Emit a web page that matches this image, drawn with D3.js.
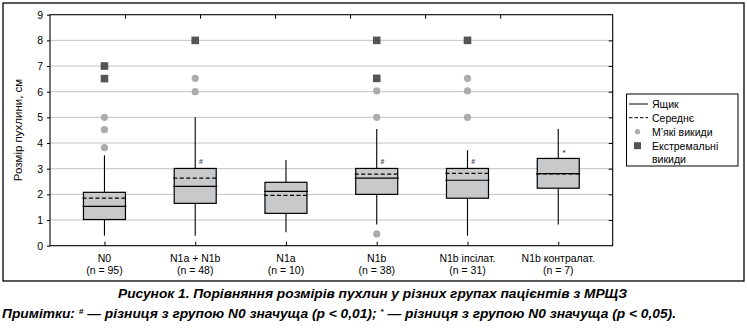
<!DOCTYPE html>
<html><head><meta charset="utf-8">
<script src="https://cdn.jsdelivr.net/npm/d3@7"></script>
<style>
body{margin:0;background:#fff;}
svg{display:block;}
text{font-family:"Liberation Sans",Arial,sans-serif;}
.cap{font-family:"Liberation Sans",Arial,sans-serif;font-weight:bold;font-style:italic;}
</style></head>
<body>
<svg id="c" width="747" height="331"></svg>
<script>
const categories = ["N0","N1a + N1b","N1a","N1b","N1b іпсілат.","N1b контралат."];
const nLabels = ["(n = 95)","(n = 48)","(n = 10)","(n = 38)","(n = 31)","(n = 7)"];
const q1 = [1.02, 1.65, 1.26, 2.0, 1.85, 2.24];
const median = [1.53, 2.31, 2.12, 2.63, 2.55, 2.81];
const q3 = [2.08, 3.01, 2.47, 3.01, 3.01, 3.40];
const mean = [1.85, 2.63, 1.96, 2.79, 2.82, 2.80];
const whiskerLow = [0.39, 0.39, 0.52, 0.83, 0.39, 0.83];
const whiskerHigh = [3.52, 5.0, 3.34, 4.55, 3.72, 4.55];
const mildOutliers = [[5.0, 4.52, 3.82], [6.52, 6.0], [], [6.03, 5.0, 0.46], [6.52, 6.03, 5.0], []];
const extremeOutliers = [[7.0, 6.51], [8.0], [], [8.0, 6.52], [8.0], []];
const significance = ["", "#", "", "#", "#", "*"];
const yTicks = [0,1,2,3,4,5,6,7,8,9];
const legendLabels = ["Ящик","Середнє","М’які викиди","Екстремальні","викиди"];
const caption = "Рисунок 1.  Порівняння розмірів пухлин у різних групах пацієнтів з МРЩЗ";

const svg = d3.select("#c");
const L = 50, R = 612.7, T = 14.7, B = 245.7;
const x = d3.scalePoint().domain(categories).range([L, R]).padding(0.6);
const y = d3.scaleLinear().domain([0, 9]).range([B, T]);
const xTop = d3.scaleLinear().domain([0, 7.5]).range([L, R]);
const boxW = 42;

// outer frame
svg.append("rect").attr("x", 3).attr("y", 3).attr("width", 741).attr("height", 278)
  .attr("fill", "none").attr("stroke", "#000").attr("stroke-width", 1.3);

// grid
svg.append("g").selectAll("line").data(yTicks.filter(d => d > 0 && d < 9)).join("line")
  .attr("x1", L).attr("x2", R).attr("y1", d => y(d)).attr("y2", d => y(d))
  .attr("stroke", "#c4c4c4").attr("stroke-width", 1);

// plot frame
svg.append("rect").attr("x", L).attr("y", T).attr("width", R - L).attr("height", B - T)
  .attr("fill", "none").attr("stroke", "#000").attr("stroke-width", 1.1);

// left axis
const ay = svg.append("g").attr("transform", `translate(${L},0)`)
  .call(d3.axisLeft(y).tickValues(yTicks).tickSize(3).tickPadding(4).tickFormat(d3.format("d")));
ay.select(".domain").remove();
ay.attr("font-family", null);
ay.selectAll("text").attr("font-size", 10.5).attr("fill", "#000");
ay.selectAll("line").attr("stroke", "#000");

// right axis inward ticks
const ar = svg.append("g").attr("transform", `translate(${R},0)`)
  .call(d3.axisRight(y).tickValues(yTicks.filter(d => d > 0 && d < 9)).tickSize(-4).tickFormat(""));
ar.select(".domain").remove();
ar.selectAll("line").attr("stroke", "#000");

// top axis inward ticks
const at = svg.append("g").attr("transform", `translate(0,${T})`)
  .call(d3.axisTop(xTop).tickValues([1,2,3,4,5,6]).tickSize(-4).tickFormat(""));
at.select(".domain").remove();
at.selectAll("line").attr("stroke", "#000");

// bottom axis inward ticks and labels
const ab = svg.append("g").attr("transform", `translate(0,${B})`)
  .call(d3.axisBottom(x).tickSize(-4).tickFormat(""));
ab.select(".domain").remove();
ab.selectAll("line").attr("stroke", "#000");

svg.append("g").selectAll("text").data(categories).join("text")
  .attr("x", d => x(d)).attr("y", 262).attr("text-anchor", "middle")
  .attr("font-size", 10.5).text(d => d);
svg.append("g").selectAll("text").data(nLabels).join("text")
  .attr("x", (d, i) => x(categories[i])).attr("y", 273.5).attr("text-anchor", "middle")
  .attr("font-size", 10.5).text(d => d);

// y title
svg.append("text").attr("transform", "translate(22,130) rotate(-90)")
  .attr("text-anchor", "middle").attr("font-size", 11.5).text("Розмір пухлини, см");

// boxes
const g = svg.append("g");
categories.forEach((c, i) => {
  const cx = x(c);
  g.append("line").attr("x1", cx).attr("x2", cx).attr("y1", y(q3[i])).attr("y2", y(whiskerHigh[i]))
    .attr("stroke", "#000").attr("stroke-width", 1.1);
  g.append("line").attr("x1", cx).attr("x2", cx).attr("y1", y(q1[i])).attr("y2", y(whiskerLow[i]))
    .attr("stroke", "#000").attr("stroke-width", 1.1);
  g.append("rect").attr("x", cx - boxW / 2).attr("y", y(q3[i])).attr("width", boxW)
    .attr("height", y(q1[i]) - y(q3[i])).attr("fill", "#c8c9cb").attr("stroke", "#000").attr("stroke-width", 1.2);
  g.append("line").attr("x1", cx - boxW / 2 - 1).attr("x2", cx + boxW / 2 + 1)
    .attr("y1", y(median[i])).attr("y2", y(median[i])).attr("stroke", "#000").attr("stroke-width", 1.2);
  g.append("line").attr("x1", cx - boxW / 2 - 1).attr("x2", cx + boxW / 2 + 1)
    .attr("y1", y(mean[i])).attr("y2", y(mean[i])).attr("stroke", "#000").attr("stroke-width", 1.2)
    .attr("stroke-dasharray", "4,2.5");
  mildOutliers[i].forEach(v => {
    g.append("circle").attr("cx", cx).attr("cy", y(v)).attr("r", 3.6).attr("fill", "#acacac");
  });
  extremeOutliers[i].forEach(v => {
    g.append("rect").attr("x", cx - 3.8).attr("y", y(v) - 3.8).attr("width", 7.6).attr("height", 7.6).attr("fill", "#555");
  });
  if (significance[i]) {
    const star = significance[i] === "*";
    g.append("text").attr("x", cx + 5.8).attr("y", y(q3[i]) - (star ? 3 : 4))
      .attr("text-anchor", "middle").attr("font-size", star ? 8 : 7).attr("font-weight", "bold")
      .attr("fill", "#4d4660").text(significance[i]);
  }
});

// legend
const lg = svg.append("g");
lg.append("rect").attr("x", 626.5).attr("y", 94).attr("width", 111.5).attr("height", 72)
  .attr("fill", "#fff").attr("stroke", "#000").attr("stroke-width", 1);
const ly = [104, 117.7, 131.7, 145.7, 159];
lg.append("line").attr("x1", 629).attr("x2", 648).attr("y1", ly[0]).attr("y2", ly[0]).attr("stroke", "#000");
lg.append("line").attr("x1", 629).attr("x2", 648).attr("y1", ly[1]).attr("y2", ly[1]).attr("stroke", "#000").attr("stroke-dasharray", "3.5,2");
lg.append("circle").attr("cx", 637.5).attr("cy", ly[2]).attr("r", 2.6).attr("fill", "#acacac");
lg.append("rect").attr("x", 634).attr("y", ly[3] - 3.5).attr("width", 7).attr("height", 7).attr("fill", "#555");
lg.selectAll("text.l").data(legendLabels).join("text").attr("class", "l")
  .attr("x", 652).attr("y", (d, i) => ly[i] + 3.8).attr("font-size", 10.5).text(d => d);

// captions
svg.append("text").attr("class", "cap").attr("x", 118).attr("y", 298)
  .attr("font-size", 13).attr("textLength", 509).attr("lengthAdjust", "spacingAndGlyphs")
  .text(caption);
const nt = svg.append("text").attr("class", "cap").attr("x", 2).attr("y", 318)
  .attr("font-size", 13).attr("textLength", 674).attr("lengthAdjust", "spacingAndGlyphs");
nt.append("tspan").text("Примітки: ");
nt.append("tspan").attr("font-size", 8).attr("dy", -4).text("#");
nt.append("tspan").attr("dy", 4).text(" — різниця з групою N0 значуща (p < 0,01); ");
nt.append("tspan").attr("font-size", 8).attr("dy", -4).text("*");
nt.append("tspan").attr("dy", 4).text(" — різниця з групою N0 значуща (p < 0,05).");
</script>
</body></html>
